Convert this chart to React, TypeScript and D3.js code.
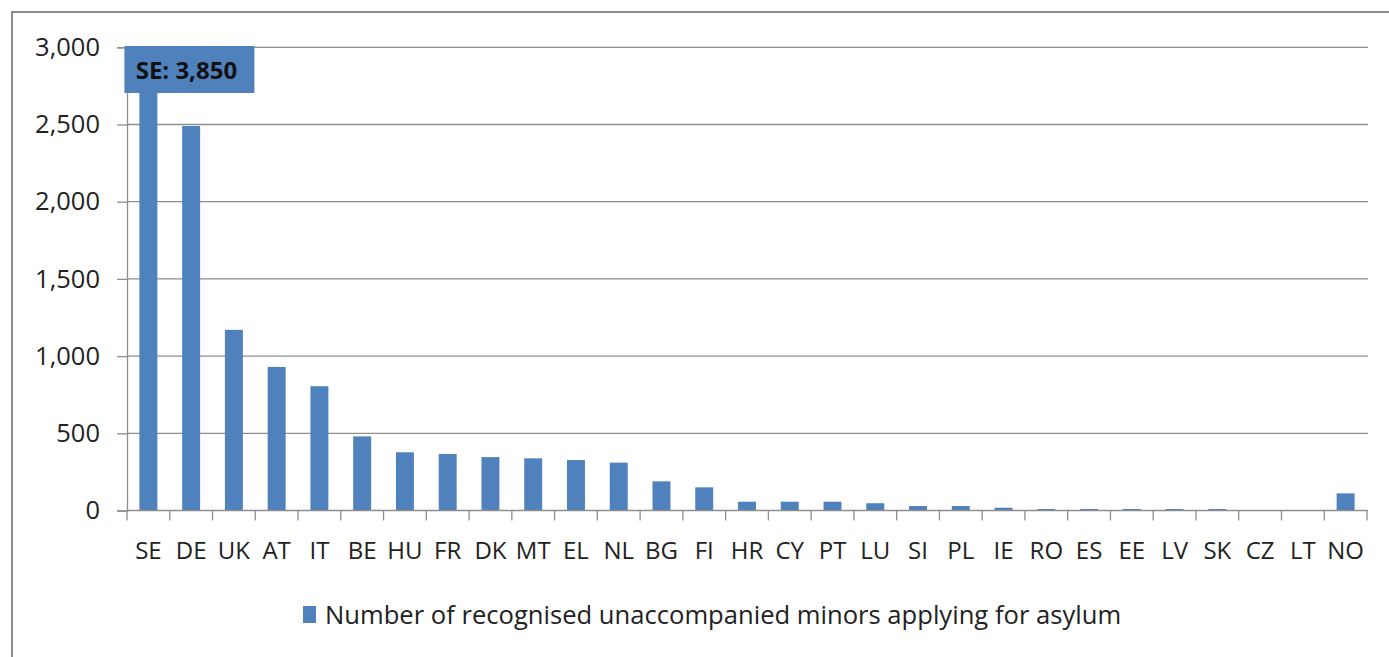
import React, { useEffect, useRef } from "react";
import * as d3 from "d3";

// Data
const countries = [
  "SE", "DE", "UK", "AT", "IT", "BE", "HU", "FR", "DK", "MT", "EL", "NL", "BG", "FI",
  "HR", "CY", "PT", "LU", "SI", "PL", "IE", "RO", "ES", "EE", "LV", "SK", "CZ", "LT", "NO",
];
const minors = [
  3850, 2490, 1170, 930, 805, 480, 377, 366, 346, 338, 327, 310, 189, 150,
  57, 57, 57, 47, 29, 29, 18, 10, 10, 10, 10, 10, 0, 0, 111,
];
const yTicks = [0, 500, 1000, 1500, 2000, 2500, 3000];
const seriesName = "Number of recognised unaccompanied minors applying for asylum";

const W = 1389;
const H = 657;
const FONT = "'Open Sans', 'Noto Sans', sans-serif";
const BLUE = "#4f81bd";

const App = () => {
  const ref = useRef<SVGSVGElement | null>(null);

  useEffect(() => {
    const svg = d3.select(ref.current);
    svg.selectAll("*").remove();

    const left = 127, right = 1367, top = 47.3, bottom = 510.5;

    const x = d3.scaleBand<string>()
      .domain(countries)
      .range([left, right])
      .paddingInner(0.58)
      .paddingOuter(0.29);
    const step = x.step();
    const y = d3.scaleLinear().domain([0, 3000]).range([bottom, top]).clamp(true);

    // outer frame (runs past the page edge)
    svg.append("rect")
      .attr("x", 12).attr("y", 12)
      .attr("width", W + 20).attr("height", H + 20)
      .attr("fill", "white")
      .attr("stroke", "#8c8c8c")
      .attr("stroke-width", 2);

    // gridlines
    svg.append("g")
      .selectAll("line")
      .data(yTicks.filter(d => d > 0))
      .join("line")
      .attr("x1", left).attr("x2", right + 1)
      .attr("y1", d => y(d)).attr("y2", d => y(d))
      .attr("stroke", "#8e8e8e")
      .attr("stroke-width", 1.3);

    // y axis
    const yAxis = svg.append("g")
      .attr("transform", `translate(${left},0)`)
      .call(d3.axisLeft(y).tickValues(yTicks).tickSize(10).tickPadding(17).tickFormat(d3.format(",")));
    yAxis.select(".domain").attr("stroke", "#8e8e8e").attr("stroke-width", 1.3);
    yAxis.selectAll(".tick line").attr("stroke", "#8e8e8e").attr("stroke-width", 1.3);
    yAxis.selectAll("text")
      .attr("font-family", FONT).attr("font-size", 25.5).attr("fill", "#222");

    // bars
    svg.append("g")
      .selectAll("rect")
      .data(countries.map((c, i) => ({ c, v: minors[i] })))
      .join("rect")
      .attr("x", d => x(d.c) as number)
      .attr("width", x.bandwidth())
      .attr("y", d => y(d.v))
      .attr("height", d => bottom - y(d.v))
      .attr("fill", BLUE);

    // x axis
    const g = svg.append("g");
    g.append("line")
      .attr("x1", left).attr("x2", right + 1)
      .attr("y1", bottom).attr("y2", bottom)
      .attr("stroke", "#8e8e8e").attr("stroke-width", 1.3);
    const bounds = d3.range(countries.length + 1).map(i => left + i * step);
    g.selectAll("line.tk")
      .data(bounds)
      .join("line")
      .attr("class", "tk")
      .attr("x1", d => d).attr("x2", d => d)
      .attr("y1", bottom).attr("y2", bottom + 10)
      .attr("stroke", "#8e8e8e").attr("stroke-width", 1.3);
    g.selectAll("text")
      .data(countries)
      .join("text")
      .attr("x", d => (x(d) as number) + x.bandwidth() / 2)
      .attr("y", 559)
      .attr("text-anchor", "middle")
      .attr("font-family", FONT).attr("font-size", 24).attr("fill", "#222")
      .text(d => d);

    // annotation for the clipped SE bar
    const seX = (x("SE") as number) - 15;
    svg.append("rect")
      .attr("x", seX).attr("y", 46)
      .attr("width", 130).attr("height", 47)
      .attr("fill", BLUE);
    svg.append("text")
      .attr("x", seX + 62).attr("y", 79)
      .attr("text-anchor", "middle")
      .attr("font-family", FONT).attr("font-size", 24).attr("font-weight", "bold")
      .attr("fill", "#111")
      .text(`SE: ${d3.format(",")(minors[0])}`);

    // legend
    const lg = svg.append("g").attr("transform", "translate(303,606)");
    lg.append("rect").attr("width", 13).attr("height", 17).attr("fill", BLUE);
    lg.append("text")
      .attr("x", 22).attr("y", 18)
      .attr("font-family", FONT).attr("font-size", 25.6).attr("fill", "#222")
      .text(seriesName);
  }, []);

  return (
    <svg
      ref={ref}
      width={W}
      height={H}
      style={{ position: "absolute", left: 0, top: 0, display: "block", background: "white" }}
    />
  );
};

export default App;
